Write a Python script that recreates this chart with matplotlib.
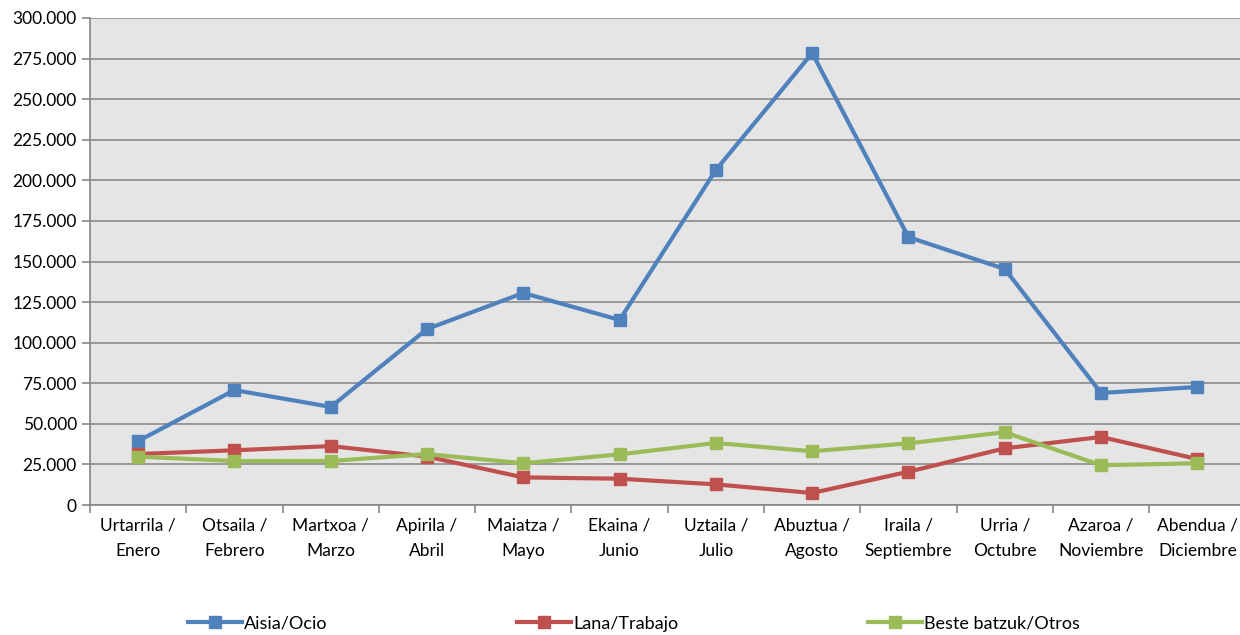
import numpy as np
import matplotlib.pyplot as plt
from matplotlib.ticker import FuncFormatter

months = ['Urtarrila /\nEnero', 'Otsaila /\nFebrero', 'Martxoa /\nMarzo', 'Apirila /\nAbril',
          'Maiatza /\nMayo', 'Ekaina /\nJunio', 'Uztaila /\nJulio', 'Abuztua /\nAgosto',
          'Iraila /\nSeptiembre', 'Urria /\nOctubre', 'Azaroa /\nNoviembre', 'Abendua /\nDiciembre']

aisia = [39400, 70800, 60400, 108400, 130600, 114000, 206400, 278400, 165000, 145400, 69000, 72700]
lana = [31400, 33700, 36300, 29800, 17000, 16200, 12700, 7400, 20500, 34900, 41900, 28300]
beste = [29800, 27100, 27100, 31400, 25700, 31200, 38200, 33100, 38000, 44800, 24500, 25700]

series = [('Aisia/Ocio', aisia, '#4F81BD'),
          ('Lana/Trabajo', lana, '#C0504D'),
          ('Beste batzuk/Otros', beste, '#9BBB59')]

plt.rcParams['font.family'] = ['Lato', 'DejaVu Sans']

fig = plt.figure(figsize=(12.4, 6.35), dpi=100)
ax = fig.add_axes([90 / 1240, 1 - 505 / 635, 1155.5 / 1240, 487 / 635])
ax.set_facecolor('#E5E5E5')

x = np.arange(len(months))
for name, vals, col in series:
    ax.plot(x, vals, color=col, lw=3, marker='s', ms=8, label=name, zorder=3)

ax.set_xlim(-0.5, len(months) - 0.5)
ax.set_ylim(0, 300000)
ax.set_yticks(np.arange(0, 300001, 25000))
ax.yaxis.set_major_formatter(FuncFormatter(lambda v, p: '0' if v == 0 else f'{v:,.0f}'.replace(',', '.')))
ax.grid(axis='y', color='#8C8C8C', lw=1.2)
ax.set_axisbelow(True)

ax.set_xticks(np.arange(-0.5, len(months)), [''] * (len(months) + 1))
ax.set_xticks(x, months, minor=True, linespacing=1.75)
ax.tick_params(axis='x', which='minor', length=0, pad=9, labelsize=12.5)
ax.tick_params(axis='x', which='major', length=6, color='#868686', width=1.2)
ax.tick_params(axis='y', length=6, color='#868686', width=1.2, labelsize=12.5)

for s in ['top', 'right']:
    ax.spines[s].set_visible(False)
for s in ['left', 'bottom']:
    ax.spines[s].set_color('#868686')
    ax.spines[s].set_linewidth(1.2)

fig.legend(loc='center left', bbox_to_anchor=(179 / 1240, 0.018), ncol=3, frameon=False,
           fontsize=13, handlelength=3.0, handletextpad=0.1, columnspacing=10.5, borderpad=0)

fig.savefig('out.png', dpi=100)
